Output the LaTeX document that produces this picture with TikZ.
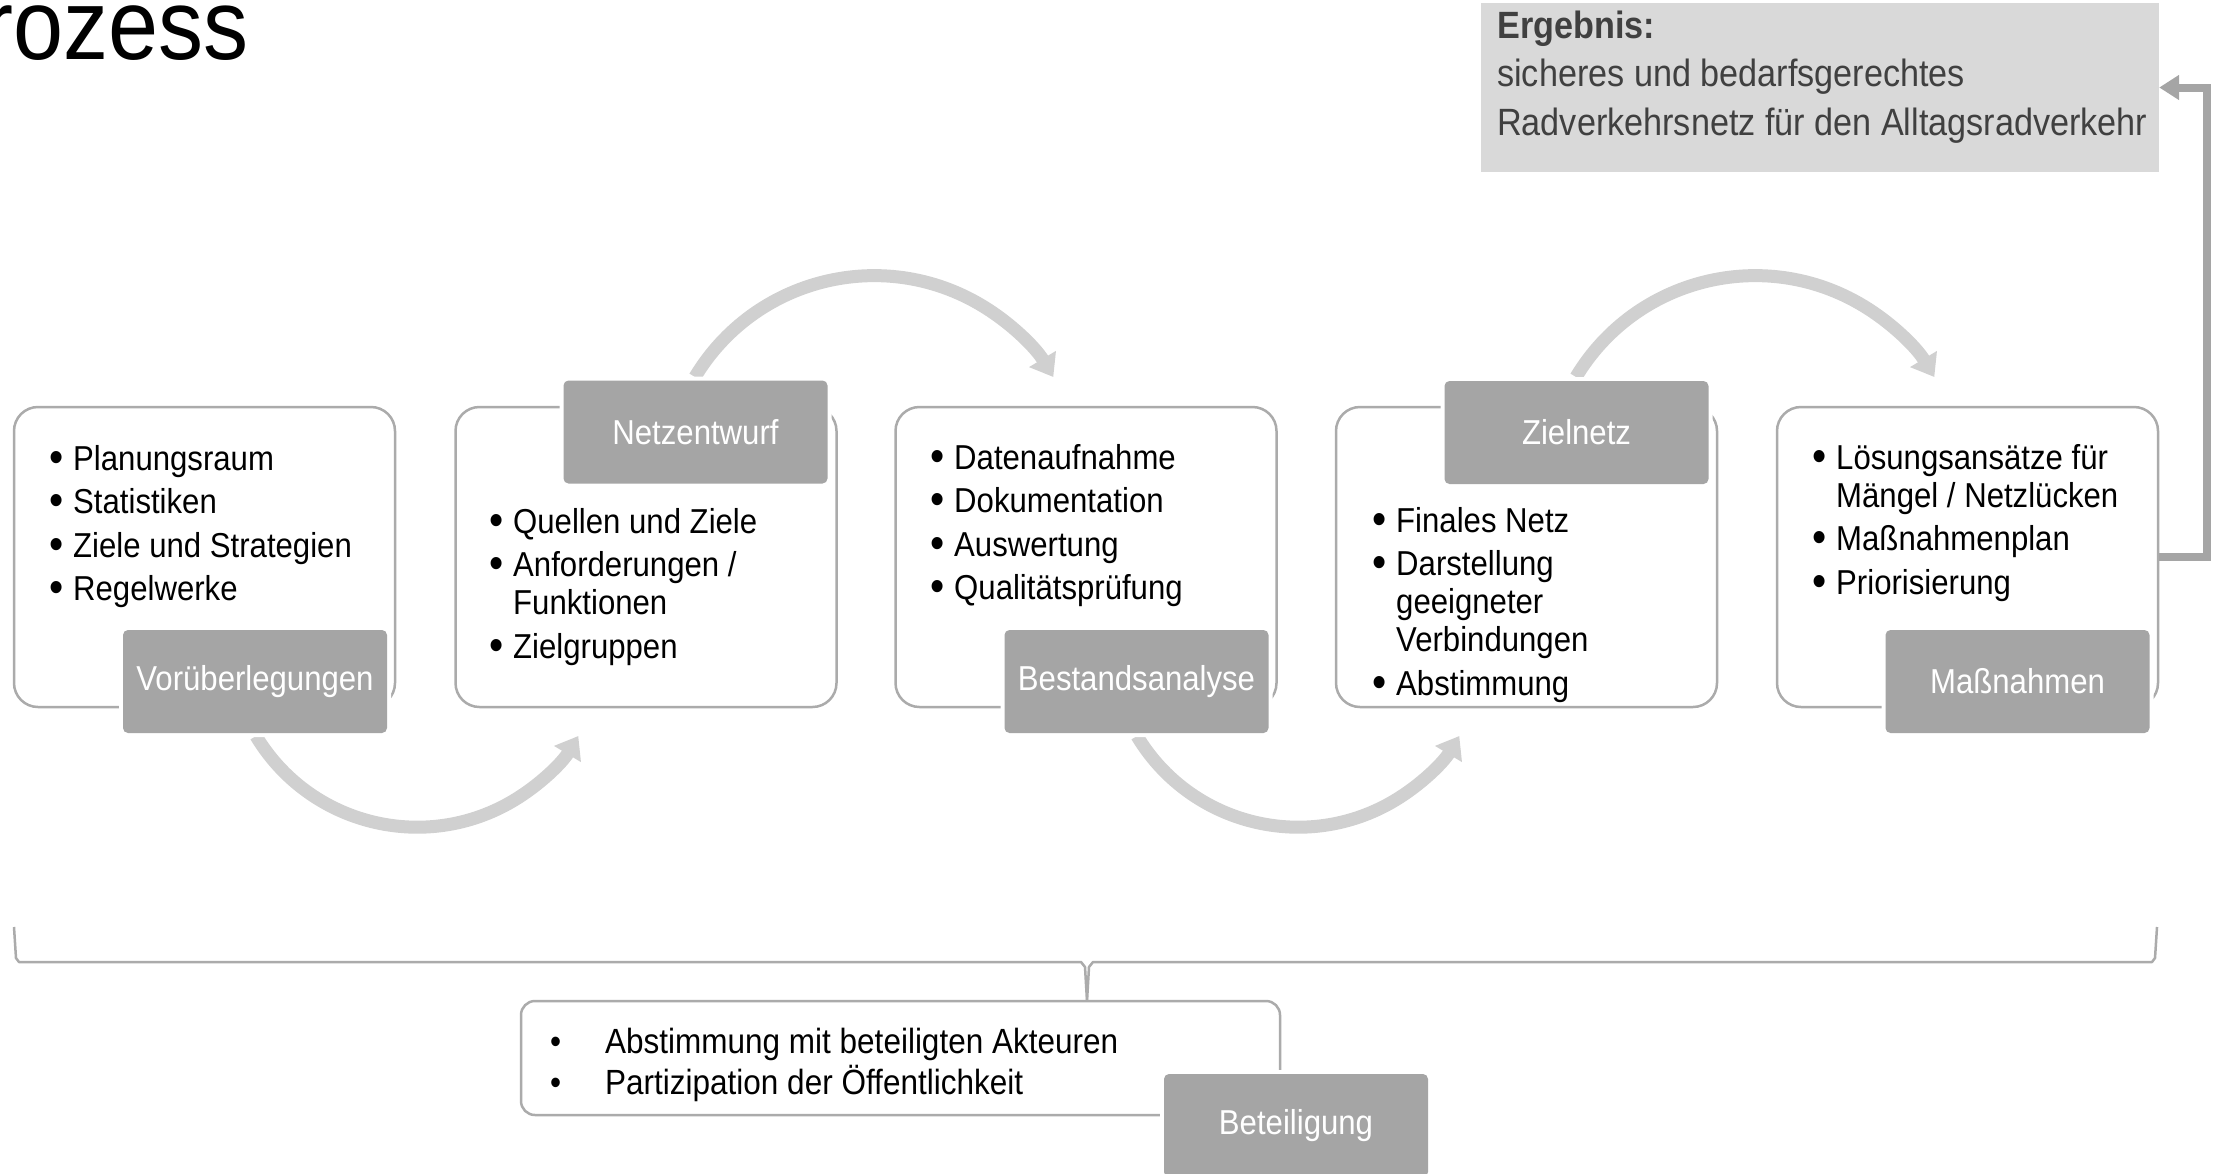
\documentclass[tikz,border=0pt]{standalone}
\usepackage{fontspec}
\setmainfont{Liberation Sans}[FakeStretch=0.9]
\usetikzlibrary{arrows.meta}

\definecolor{labgray}{HTML}{A5A5A5}
\definecolor{boxline}{HTML}{ABABAB}
\definecolor{flowgray}{HTML}{D0D0D0}
\definecolor{resultfill}{HTML}{D9D9D9}
\definecolor{resulttext}{HTML}{404040}
\definecolor{fbgray}{HTML}{A5A5A5}

% bullet with hanging indent
\newcommand\bdot{\raisebox{-0.12ex}{\scalebox{1.3}{•}}}
\newcommand\blt{\makebox[21pt][l]{\hspace*{-3pt}\bdot}}
\newcommand\hng{\hspace*{21pt}}

\begin{document}
\begin{tikzpicture}[x=1pt,y=-1pt,
  stagebox/.style={draw=boxline, line width=2.5pt, rounded corners=24pt,
    minimum width=381pt, minimum height=300pt, inner sep=0pt},
  stagelabel/.style={fill=labgray, rounded corners=5pt, minimum width=264pt,
    minimum height=103pt, inner sep=0pt, text=white,
    font=\fontsize{34.6}{38}\selectfont,
    preaction={draw=white, line width=8pt}},
  itemtext/.style={anchor=base west, inner sep=0pt,
    font=\fontsize{34.6}{38}\selectfont},
  flow/.style={draw=flowgray, line width=13pt,
    -{Triangle[width=30pt,length=21pt]}},
  feedback/.style={draw=fbgray, line width=8pt,
    -{Triangle[width=24pt,length=20pt]}},
  bracket/.style={draw=boxline, line width=2.5pt, line join=round}
]
\useasboundingbox (0,0) rectangle (2213,1173);

% title
\node[anchor=base west, inner sep=0pt, font=\fontsize{100}{110}\selectfont]
  (title) at (-17,59) {rozess};

% result box
\node[fill=resultfill, minimum width=678pt, minimum height=169pt, inner sep=0pt]
  (erg) at (1820,87.5) {};
\node[anchor=base west, inner sep=0pt, text=resulttext,
  font=\fontsize{38}{48.5}\selectfont] (ergtext) at (1497,38)
  {\parbox[t]{660pt}{\textbf{Ergebnis:}\\
   sicheres und bedarfsgerechtes\\
   Radverkehrsnetz für den Alltagsradverkehr}};

% stage boxes
\node[stagebox] (b1) at (204.5,557) {};
\node[stagebox] (b2) at (646,557) {};
\node[stagebox] (b3) at (1086,557) {};
\node[stagebox] (b4) at (1526.5,557) {};
\node[stagebox] (b5) at (1967.5,557) {};

% curved flow arrows between the stages
\coordinate (a1) at (256,736);
\coordinate (a2) at (695,377);
\coordinate (a3) at (1137,736);
\coordinate (a4) at (1576,377);
\draw[flow] (a1) arc[start angle=149, end angle=31, radius=188];
\draw[flow] (a2) arc[start angle=211, end angle=329, radius=209];
\draw[flow] (a3) arc[start angle=149, end angle=31, radius=188];
\draw[flow] (a4) arc[start angle=211, end angle=329, radius=209];

% stage labels
\node[stagelabel] (l1) at (255,681.5) {Vorüberlegungen};
\node[stagelabel] (l2) at (695.5,432) {Netzentwurf};
\node[stagelabel] (l3) at (1136.5,681.5) {Bestandsanalyse};
\node[stagelabel] (l4) at (1576.5,432.5) {Zielnetz};
\node[stagelabel] (l5) at (2017.5,681.5) {Maßnahmen};

% stage contents
\node[itemtext] (t1) at (52,470) {\parbox[t]{330pt}{%
  \blt Planungsraum\\[5.5pt]
  \blt Statistiken\\[5.5pt]
  \blt Ziele und Strategien\\[5.5pt]
  \blt Regelwerke}};
\node[itemtext] (t2) at (492,533) {\parbox[t]{330pt}{%
  \blt Quellen und Ziele\\[5.5pt]
  \blt Anforderungen /\\
  \hng Funktionen\\[5.5pt]
  \blt Zielgruppen}};
\node[itemtext] (t3) at (933,469) {\parbox[t]{330pt}{%
  \blt Datenaufnahme\\[5.5pt]
  \blt Dokumentation\\[5.5pt]
  \blt Auswertung\\[5.5pt]
  \blt Qualitätsprüfung}};
\node[itemtext] (t4) at (1375,532) {\parbox[t]{330pt}{%
  \blt Finales Netz\\[5.5pt]
  \blt Darstellung\\
  \hng geeigneter\\
  \hng Verbindungen\\[5.5pt]
  \blt Abstimmung}};
\node[itemtext] (t5) at (1815,469) {\parbox[t]{330pt}{%
  \blt Lösungsansätze für\\
  \hng Mängel / Netzlücken\\[5.5pt]
  \blt Maßnahmenplan\\[5.5pt]
  \blt Priorisierung}};

% feedback from the measures to the result
\coordinate (fbx) at (2207,0);
\draw[feedback] (b5.east) -- (b5.east -| fbx) |- (erg.east);

% brace over all stages
\coordinate (brl) at (14,927);
\coordinate (brr) at (2157,927);
\coordinate (brtip) at (1087,1001);
\draw[bracket] (brl) -- (16,958) -- (19,962) -- (1081,962) -- (1085,967) -- (brtip);
\draw[bracket] (brr) -- (2155,958) -- (2152,962) -- (1093,962) -- (1089,967) -- (brtip);

% participation
\node[draw=boxline, line width=2.5pt, rounded corners=14pt, minimum width=759pt,
  minimum height=114pt, inner sep=0pt] (pbox) at (900.5,1058) {};
\node[itemtext, font=\fontsize{35}{41}\selectfont] (ptext) at (550,1053)
  {\parbox[t]{700pt}{%
   \makebox[55pt][l]{•}Abstimmung mit beteiligten Akteuren\\
   \makebox[55pt][l]{•}Partizipation der Öffentlichkeit}};
\node[stagelabel] (l6) at (1296,1125.5) {Beteiligung};
\end{tikzpicture}
\end{document}
